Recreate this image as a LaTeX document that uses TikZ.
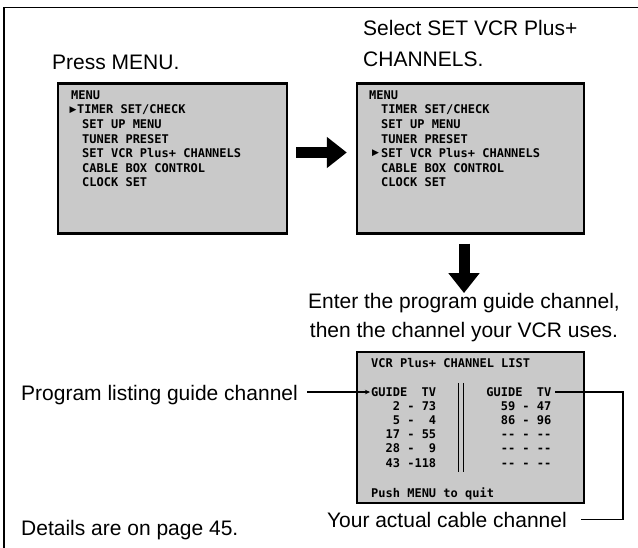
\documentclass[tikz,border=0pt]{standalone}
\usepackage{fontspec}
\setmainfont{Liberation Sans}
\newfontfamily\osdfont{DejaVu Sans Mono}
\newfontfamily\symfont{DejaVu Sans}
\usetikzlibrary{arrows.meta}
\begin{document}
\begin{tikzpicture}[x=1pt,y=-1pt,
  heading/.style={font=\fontsize{21}{25}\selectfont, inner sep=0pt},
  screen/.style={draw=black, line width=2.4pt, fill=black!21, inner sep=0pt,
                 minimum width=227pt, minimum height=150pt},
  osd/.style={font=\osdfont\bfseries\fontsize{12}{14}\selectfont, inner sep=0pt, anchor=base west},
  cursor/.style={font=\symfont\fontsize{9}{10}\selectfont, inner sep=0pt},
  bigarrow/.style={line width=11pt, -{Triangle[length=20pt,width=30pt]}},
  leader/.style={line width=1.2pt},
  bars/.style={line width=1.8pt}]
\useasboundingbox (0,0) rectangle (638,548);
% frame
\draw[line width=1.3pt] (638,7.5) -- (4,7.5) -- (4,548);
% screens
\node[screen, minimum width=229pt] (box1) at (172.5,158.5) {};
\node[screen] (box2) at (470.5,158.5) {};
\node[screen, minimum height=151pt] (box3) at (470.5,427.5) {};
% headings
\node[heading, anchor=base west] (press) at (52,70) {Press MENU.};
\node[heading, anchor=base west] (sel1) at (363,36) {Select SET VCR Plus+};
\node[heading, anchor=base west] (sel2) at (363,67) {CHANNELS.};
\node[heading, anchor=base] (enter1) at (464,308.5) {Enter the program guide channel,};
\node[heading, anchor=base] (enter2) at (464,338) {then the channel your VCR uses.};
\node[heading, anchor=base west] (plg) at (21,400) {Program listing guide channel};
\node[heading, anchor=base east] (yac) at (567,527) {Your actual cable channel};
\node[heading, anchor=base west] (det) at (21,535) {Details are on page 45.};
% menu 1
\node[osd] (m1t) at (71,99.5) {MENU};
\node[osd] (m1a) at (77,114) {TIMER SET/CHECK};
\node[osd] (m1b) at (82,128.6) {SET UP MENU};
\node[osd] (m1c) at (82,143.1) {TUNER PRESET};
\node[osd] (m1d) at (82,157.7) {SET VCR Plus+ CHANNELS};
\node[osd] (m1e) at (82,172.2) {CABLE BOX CONTROL};
\node[osd] (m1f) at (82,186.8) {CLOCK SET};
\node[cursor] (c1) at (73,110) {▶};
% menu 2
\node[osd] (m2t) at (369,99.5) {MENU};
\node[osd] (m2a) at (381,114) {TIMER SET/CHECK};
\node[osd] (m2b) at (381,128.6) {SET UP MENU};
\node[osd] (m2c) at (381,143.1) {TUNER PRESET};
\node[osd] (m2d) at (381,157.7) {SET VCR Plus+ CHANNELS};
\node[osd] (m2e) at (381,172.2) {CABLE BOX CONTROL};
\node[osd] (m2f) at (381,186.8) {CLOCK SET};
\node[cursor] (c2) at (375.5,153) {▶};
% channel list
\node[osd] (cl) at (371,367.4) {VCR Plus+ CHANNEL LIST};
\node[osd] (gl) at (371,396.4) {GUIDE};
\node[osd] (tl) at (421.4,396.4) {TV};
\node[osd] (l1) at (371,410.4) {\phantom{000}2 - 73};
\node[osd] (l2) at (371,424.6) {\phantom{000}5 - \phantom{0}4};
\node[osd] (l3) at (371,438.8) {\phantom{00}17 - 55};
\node[osd] (l4) at (371,453) {\phantom{00}28 - \phantom{0}9};
\node[osd] (l5) at (371,467.3) {\phantom{00}43 -118};
\node[osd] (gr) at (486.2,396.4) {GUIDE};
\node[osd] (tr) at (536.6,396.4) {TV};
\node[osd] (r1) at (500.6,410.4) {59 - 47};
\node[osd] (r2) at (500.6,424.6) {86 - 96};
\node[osd] (r3) at (500.6,438.8) {-{}- - -{}-};
\node[osd] (r4) at (500.6,453) {-{}- - -{}-};
\node[osd] (r5) at (500.6,467.3) {-{}- - -{}-};
\node[osd] (push) at (371,497.4) {Push MENU to quit};
\draw[bars] (458.5,383) -- (458.5,472);
\draw[bars] (463.5,383) -- (463.5,472);
% big arrows
\draw[bigarrow] ([xshift=8pt,yshift=6pt]box1.east) -- ([xshift=-9pt,yshift=6pt]box2.west);
\draw[bigarrow, shorten <=9pt] (box2.south -| enter1.north) -- (enter1.north);
% leaders
\draw[leader, {Stealth[length=5pt,width=4.5pt]}-] ([xshift=-1pt]gl.west) -- ++(-63pt,0);
\draw[leader] ([xshift=4pt]tr.east) -| ([xshift=56pt]yac.east) -- ([xshift=14pt]yac.east);
\end{tikzpicture}
\end{document}
